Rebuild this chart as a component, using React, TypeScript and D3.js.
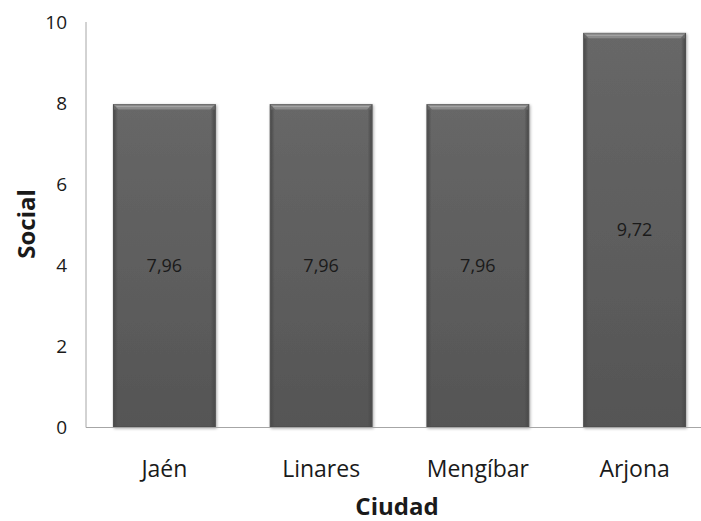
import React from "react";
import * as d3 from "d3";

const categories = ["Jaén", "Linares", "Mengíbar", "Arjona"];
const values = [7.96, 7.96, 7.96, 9.72];
const yTicks = [0, 2, 4, 6, 8, 10];
const labels = ["7,96", "7,96", "7,96", "9,72"];

const W = 701;
const H = 521;
const FONT = "'Open Sans', 'Noto Sans', sans-serif";

export default function App() {
  const x = d3.scaleBand<string>().domain(categories).range([86, 713]).paddingInner(0.35).paddingOuter(0.175);
  const y = d3.scaleLinear().domain([0, 10]).range([427, 22]);
  const bw = x.bandwidth();
  return (
    <div style={{ position: "absolute", left: 0, top: 0 }}>
      <svg width={W} height={H} style={{ display: "block", background: "#fff" }}>
        <defs>
          <linearGradient id="barg" x1="0" y1="0" x2="0" y2="1">
            <stop offset="0" stopColor="#676767" />
            <stop offset="1" stopColor="#555555" />
          </linearGradient>
          <linearGradient id="edgeL" x1="0" y1="0" x2="1" y2="0">
            <stop offset="0" stopColor="#4a4a4a" />
            <stop offset="1" stopColor="#4a4a4a" stopOpacity="0" />
          </linearGradient>
          <linearGradient id="edgeR" x1="1" y1="0" x2="0" y2="0">
            <stop offset="0" stopColor="#4a4a4a" />
            <stop offset="1" stopColor="#4a4a4a" stopOpacity="0" />
          </linearGradient>
          <filter id="sh" x="-10%" y="-10%" width="120%" height="120%">
            <feGaussianBlur in="SourceAlpha" stdDeviation="1.5" />
            <feOffset dx="1" dy="1" result="b" />
            <feComponentTransfer><feFuncA type="linear" slope="0.35" /></feComponentTransfer>
            <feMerge><feMergeNode /><feMergeNode in="SourceGraphic" /></feMerge>
          </filter>
        </defs>
        {categories.map((c, i) => {
          const x0 = x(c) as number;
          const y0 = y(values[i]);
          const h = y(0) - y0;
          return (
            <g key={c}>
              <rect x={x0} y={y0} width={bw} height={h} fill="url(#barg)" stroke="#4d4d4d" strokeWidth={1} filter="url(#sh)" />
              <polygon points={`${x0},${y0} ${x0 + bw},${y0} ${x0 + bw - 5},${y0 + 5} ${x0 + 5},${y0 + 5}`} fill="#8a8a8a" />
              <line x1={x0 + 3} x2={x0 + bw - 3} y1={y0 + 2} y2={y0 + 2} stroke="#a8a8a8" strokeWidth={1} />
              <rect x={x0 + 0.5} y={y0 + 5} width={4} height={h - 5} fill="url(#edgeL)" />
              <rect x={x0 + bw - 4.5} y={y0 + 5} width={4} height={h - 5} fill="url(#edgeR)" />
              <text x={x0 + bw / 2} y={y0 + h / 2} dy="0.35em" textAnchor="middle" fontFamily={FONT} fontSize={18} fill="#1a1a1a">
                {labels[i]}
              </text>
            </g>
          );
        })}
        <line x1={86} x2={86} y1={22} y2={427.5} stroke="#a6a6a6" strokeWidth={1} />
        <line x1={86} x2={701} y1={427.5} y2={427.5} stroke="#a6a6a6" strokeWidth={1} />
        {yTicks.map((t) => (
          <text key={t} x={67} y={y(t)} dy="0.36em" textAnchor="end" fontFamily={FONT} fontSize={19} fill="#1a1a1a">
            {t}
          </text>
        ))}
        {categories.map((c) => (
          <text key={c} x={(x(c) as number) + bw / 2} y={477} textAnchor="middle" fontFamily={FONT} fontSize={23} fill="#1a1a1a">
            {c}
          </text>
        ))}
        <text x={397} y={515} textAnchor="middle" fontFamily={FONT} fontSize={24} fontWeight="bold" fill="#1a1a1a">
          Ciudad
        </text>
        <text transform={`translate(35,224) rotate(-90)`} textAnchor="middle" fontFamily={FONT} fontSize={24} fontWeight="bold" fill="#1a1a1a">
          Social
        </text>
      </svg>
    </div>
  );
}
